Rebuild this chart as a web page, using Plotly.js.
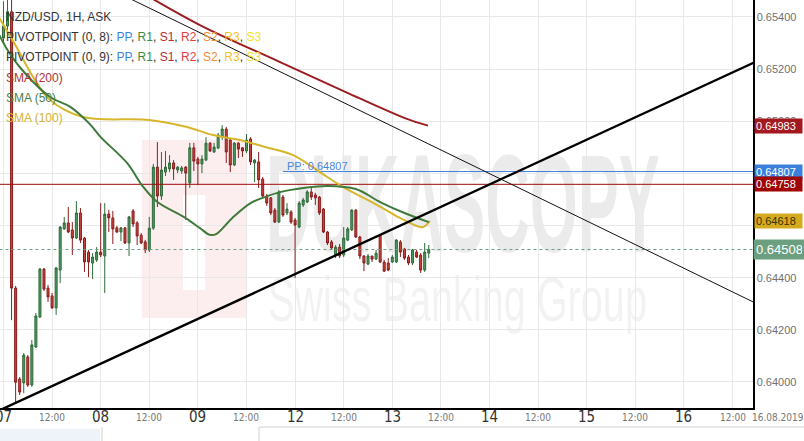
<!DOCTYPE html>
<html><head><meta charset="utf-8">
<script src="https://cdn.plot.ly/plotly-3.0.1.min.js"></script>
<style>html,body{margin:0;padding:0;background:#fff;}#chart{width:804px;height:441px;}</style>
</head><body><div id="chart"></div>
<script>
// ---- candle data (NZD/USD 1H, hour index from 07 00:00) ----
const candleStartHour = 0;
const open = [0.65319,0.65365,0.65420,0.64360,0.64011,0.63996,0.64096,0.63988,0.64134,0.64249,
0.64433,0.64360,0.64330,0.64284,0.64429,0.64587,0.64610,0.64583,0.64552,0.64648,
0.64552,0.64498,0.64456,0.64468,0.64498,0.64483,0.64644,0.64629,0.64591,0.64575,
0.64591,0.64533,0.64656,0.64610,0.64563,0.64537,0.64506,0.64590,0.64824,0.64713,
0.64805,0.64817,0.64840,0.64813,0.64809,0.64824,0.64763,0.64898,0.64855,0.64836,
0.64851,0.64916,0.64882,0.64897,0.64939,0.64970,0.64928,0.64832,0.64916,0.64898,
0.64886,0.64932,0.64840,0.64844,0.64778,0.64713,0.64706,0.64659,0.64613,0.64709,
0.64648,0.64652,0.64621,0.64594,0.64679,0.64690,0.64729,0.64717,0.64709,0.64663,
0.64575,0.64537,0.64487,0.64517,0.64487,0.64544,0.64583,0.64659,0.64556,0.64483,
0.64452,0.64483,0.64471,0.64564,0.64460,0.64456,0.64460,0.64460,0.64537,0.64510,
0.64479,0.64456,0.64498,0.64487,0.64429,0.64494];
const high = [0.65460,0.65480,0.65480,0.64368,0.64019,0.64111,0.64103,0.64161,0.64264,0.64437,
0.64437,0.64372,0.64341,0.64441,0.64598,0.64633,0.64671,0.64613,0.64694,0.64667,
0.64556,0.64506,0.64494,0.64517,0.64686,0.64686,0.64660,0.64656,0.64598,0.64594,
0.64594,0.64636,0.64663,0.64617,0.64571,0.64545,0.64633,0.64836,0.64920,0.64882,
0.64886,0.64870,0.64851,0.64828,0.64828,0.64828,0.64917,0.64917,0.64863,0.64870,
0.64939,0.64920,0.64917,0.64955,0.64985,0.64978,0.64936,0.64920,0.64920,0.64901,
0.64951,0.64939,0.64855,0.64882,0.64786,0.64721,0.64709,0.64667,0.64736,0.64717,
0.64686,0.64659,0.64629,0.64694,0.64706,0.64736,0.64744,0.64725,0.64713,0.64667,
0.64579,0.64544,0.64525,0.64529,0.64594,0.64594,0.64663,0.64663,0.64560,0.64487,
0.64491,0.64483,0.64506,0.64567,0.64468,0.64475,0.64487,0.64548,0.64544,0.64514,
0.64487,0.64510,0.64506,0.64494,0.64533,0.64525];
const low = [0.65300,0.65350,0.64237,0.63919,0.63950,0.63957,0.63981,0.63981,0.64130,0.64245,
0.64349,0.64307,0.64280,0.64257,0.64379,0.64583,0.64571,0.64487,0.64548,0.64533,
0.64422,0.64402,0.64395,0.64460,0.64479,0.64341,0.64575,0.64529,0.64571,0.64540,
0.64529,0.64483,0.64594,0.64525,0.64529,0.64494,0.64498,0.64583,0.64671,0.64698,
0.64790,0.64805,0.64775,0.64801,0.64798,0.64621,0.64744,0.64809,0.64755,0.64801,
0.64847,0.64882,0.64878,0.64893,0.64928,0.64840,0.64805,0.64828,0.64859,0.64863,
0.64878,0.64832,0.64767,0.64744,0.64706,0.64675,0.64640,0.64610,0.64610,0.64633,
0.64640,0.64606,0.64399,0.64590,0.64671,0.64686,0.64698,0.64679,0.64640,0.64571,
0.64525,0.64506,0.64475,0.64475,0.64479,0.64540,0.64579,0.64552,0.64471,0.64425,
0.64448,0.64460,0.64468,0.64456,0.64422,0.64425,0.64456,0.64456,0.64479,0.64468,
0.64448,0.64448,0.64475,0.64418,0.64422,0.64475];
const close = [0.65365,0.65420,0.64360,0.63999,0.63961,0.64103,0.63988,0.64142,0.64253,0.64433,
0.64356,0.64326,0.64284,0.64437,0.64594,0.64610,0.64575,0.64552,0.64648,0.64544,
0.64460,0.64460,0.64479,0.64498,0.64487,0.64644,0.64629,0.64587,0.64575,0.64591,
0.64533,0.64633,0.64606,0.64560,0.64533,0.64506,0.64590,0.64824,0.64713,0.64813,
0.64824,0.64840,0.64817,0.64824,0.64821,0.64801,0.64898,0.64847,0.64836,0.64855,
0.64916,0.64886,0.64901,0.64947,0.64970,0.64882,0.64832,0.64916,0.64893,0.64886,
0.64928,0.64844,0.64851,0.64775,0.64713,0.64686,0.64648,0.64613,0.64729,0.64640,
0.64663,0.64613,0.64602,0.64686,0.64698,0.64729,0.64709,0.64706,0.64648,0.64575,
0.64533,0.64514,0.64517,0.64483,0.64552,0.64587,0.64659,0.64556,0.64483,0.64456,
0.64483,0.64471,0.64494,0.64460,0.64425,0.64429,0.64479,0.64544,0.64498,0.64475,
0.64456,0.64506,0.64479,0.64429,0.64498,0.64508];

// ---- moving averages ----
const sma50Hours = [-1,1,4,11.5,16.5,21.5,24,30.5,34.5,38,44.5,48.5,51,52.5,56.5,61,64.5,68.5,74,80,87,93,99,105];
const sma50 = [0.65330,0.65273,0.65208,0.65093,0.65055,0.64986,0.64939,0.64840,0.64748,0.64690,0.64633,0.64590,0.64564,0.64567,0.64629,0.64686,0.64709,0.64729,0.64744,0.64752,0.64740,0.64690,0.64648,0.64613];
const sma100Hours = [-1,3,7.3,11.5,19.6,36,45.3,51.7,58.4,64.6,71.5,78.1,83.8,92.2,97.9,102.1,103.6,105.3];
const sma100 = [0.65396,0.65290,0.65170,0.65081,0.65016,0.65005,0.64978,0.64947,0.64928,0.64901,0.64870,0.64805,0.64748,0.64679,0.64629,0.64598,0.64594,0.64618];
const sma200Hours = [34,48.5,68.3,85.6,99.1,104.8];
const sma200 = [0.65495,0.65369,0.65227,0.65104,0.65012,0.64983];

// ---- trend lines ----
const supportHours = [-1,186];
const support = [0.63891,0.65230];
const resistHours = [31,186];
const resist = [0.65472,0.64300];

// ---- levels ----
const ppHours = [69,186];
const ppLevel = 0.64807;
const s1Level = 0.64758;
const lastPrice = 0.64508;
const fullHours = [-1,186];

// ---- axis labels ----
const gridHours = [0,12,24,36,48,60,72,84,96,108,120,132,144,156,168,180];
const axisLabels = ['07','12:00','08','12:00','09','12:00','12','12:00','13','12:00','14','12:00','15','12:00','16','12:00'];
const yTickVals = [0.640,0.642,0.644,0.646,0.648,0.650,0.652,0.654];
const yTickText = ['0.64000','0.64200','0.64400','','','0.65000','0.65200','0.65400'];
const tagValues = [0.64983,0.64807,0.64758,0.64618,0.64508];
const tagText = ['0.64983','0.64807','0.64758','0.64618','0.64508'];
const tagColors = ['#a3191f','#3b7fdc','#a00404','#d6aa1f','#6c9f80'];
const tagFontColors = ['#ffffff','#ffffff','#ffffff','#3a3000','#ffffff'];

const hours = open.map((_, i) => candleStartHour + i);

const NARROW = '"Liberation Sans Narrow","DejaVu Sans Condensed","Liberation Sans",Arial,sans-serif';
const SANS = '"Liberation Sans",Arial,sans-serif';

const traces = [
  {type:'scatter', mode:'lines', x:fullHours, y:[s1Level,s1Level], line:{color:'#9e0c0c', width:1}, hoverinfo:'skip'},
  {type:'scatter', mode:'lines', x:ppHours, y:[ppLevel,ppLevel], line:{color:'#3d80dc', width:1}, hoverinfo:'skip'},
  {type:'scatter', mode:'lines', x:fullHours, y:[lastPrice,lastPrice], line:{color:'#6c9f80', width:1, dash:'3px,3px'}, hoverinfo:'skip'},
  {type:'candlestick', x:hours, open:open, high:high, low:low, close:close,
    increasing:{line:{color:'#2d6a3a', width:1}, fillcolor:'#4f9a62'},
    decreasing:{line:{color:'#8a1c1c', width:1}, fillcolor:'#c4463b'},
    whiskerwidth:0, hoverinfo:'skip'},
  {type:'scatter', mode:'lines', x:sma200Hours, y:sma200, line:{color:'#9c1d22', width:2, shape:'spline'}, hoverinfo:'skip', cliponaxis:true},
  {type:'scatter', mode:'lines', x:sma100Hours, y:sma100, line:{color:'#d8b62c', width:2, shape:'spline'}, hoverinfo:'skip'},
  {type:'scatter', mode:'lines', x:sma50Hours, y:sma50, line:{color:'#3e7a3c', width:2, shape:'spline'}, hoverinfo:'skip'},
  {type:'scatter', mode:'lines', x:resistHours, y:resist, line:{color:'#111', width:1}, hoverinfo:'skip'},
  {type:'scatter', mode:'lines', x:supportHours, y:support, line:{color:'#000', width:2.4}, hoverinfo:'skip'}
];

const PH = 408, PW = 753;
const py = v => 1 - v / PH;
const px = v => v / PW;

const annotations = [];
const sp = (c, t) => '<span style="color:' + c + '">' + t + '</span>';
const pivotParts = sp('#3b84e2','PP') + ', ' + sp('#3d8a46','R1') + ', ' + sp('#b42e2e','S1') + ', ' +
  sp('#e23e3e','R2') + ', ' + sp('#ef8f38','S2') + ', ' + sp('#f3c41a','R3') + ', ' + sp('#efe228','S3');
const legendLines = [
  ['NZD/USD, 1H, ASK', '#333333', 17],
  ['PIVOTPOINT (0, 8): ' + pivotParts, '#333333', 37],
  ['PIVOTPOINT (0, 9): ' + pivotParts, '#333333', 57],
  ['SMA (200)', '#b23232', 78],
  ['SMA (50)', '#4a7f4a', 98],
  ['SMA (100)', '#d6b12e', 118]
];
legendLines.forEach(l => annotations.push({xref:'paper', yref:'paper', x:px(4), y:py(l[2]), xanchor:'left', yanchor:'middle',
  text:l[0], showarrow:false, font:{family:SANS, size:12, color:l[1]}}));

axisLabels.forEach((t, i) => {
  const small = t === '12:00';
  annotations.push({xref:'x', yref:'paper', x:gridHours[i], y:0, yshift:-9, xanchor:'center', yanchor:'middle',
    text:t, showarrow:false, font: small ? {family:NARROW, size:10, color:'#777'} : {family:NARROW, size:15, color:'#333'}});
});
annotations.push({xref:'paper', yref:'paper', x:px(778), y:0, yshift:-9, xanchor:'center', yanchor:'middle',
  text:'16.08.2019', showarrow:false, font:{family:NARROW, size:10, color:'#777'}});

annotations.push({xref:'x', yref:'y', x:69.5, y:ppLevel, yshift:6, xanchor:'left', yanchor:'middle',
  text:'PP: 0.64807', showarrow:false, font:{family:SANS, size:11, color:'#4a86d8'}});

tagValues.forEach((v, i) => {
  const big = i === tagValues.length - 1;
  annotations.push({xref:'paper', yref:'y', x:1, y:v, xanchor:'left', yanchor:'middle', xshift: big ? 0 : 1,
    text:tagText[i], showarrow:false, bgcolor:tagColors[i], borderpad: big ? 2 : 1, width: big ? 46 : 45, align:'left',
    font:{family:SANS, size: big ? 13 : 11, color:tagFontColors[i]}});
});

const shapes = [
  {type:'rect', xref:'paper', yref:'paper', x0:px(142), x1:px(247), y0:py(318), y1:py(140), layer:'below',
    fillcolor:'rgba(228,90,90,0.10)', line:{width:0}},
  {type:'rect', xref:'paper', yref:'paper', x0:px(183), x1:px(205), y0:py(290), y1:py(195), layer:'below',
    fillcolor:'#ffffff', line:{width:0}},
  {type:'rect', xref:'paper', yref:'paper', x0:px(266), x1:px(660), y0:py(248), y1:py(140), layer:'below',
    fillcolor:'rgba(0,0,0,0)', line:{width:0},
    label:{text:'DUKASCOPY', textposition:'middle center', font:{family:SANS, size:100, weight:'bold', color:'rgba(0,0,0,0.08)'}}},
  {type:'rect', xref:'paper', yref:'paper', x0:px(268), x1:px(647), y0:py(322), y1:py(265), layer:'below',
    fillcolor:'rgba(0,0,0,0)', line:{width:0},
    label:{text:'Swiss Banking Group', textposition:'middle center', font:{family:SANS, size:60, color:'rgba(0,0,0,0.05)'}}},
  {type:'rect', xref:'paper', yref:'paper', x0:0, x1:px(100), y0:py(441), y1:py(429), fillcolor:'#eef3fa', line:{width:0}},
  {type:'line', xref:'paper', yref:'paper', x0:px(102), x1:px(102), y0:py(441), y1:py(427), line:{color:'#d0d0d0', width:1}},
  {type:'line', xref:'paper', yref:'paper', x0:px(259), x1:px(806), y0:py(427), y1:py(427), line:{color:'#d0d0d0', width:1}},
  {type:'line', xref:'paper', yref:'paper', x0:px(259), x1:px(259), y0:py(441), y1:py(427), line:{color:'#d0d0d0', width:1}}
];

const layout = {
  width:804, height:441,
  margin:{l:0, r:51, t:0, b:33, pad:0},
  paper_bgcolor:'#ffffff', plot_bgcolor:'#ffffff',
  showlegend:false,
  xaxis:{range:[-0.86,185.06], tickvals:gridHours, showticklabels:false, ticks:'', showgrid:true, gridcolor:'#e8e8e8',
    zeroline:false, showline:true, linecolor:'#000', linewidth:1.5, mirror:true, rangeslider:{visible:false}, fixedrange:true},
  yaxis:{side:'right', range:[0.63900,0.65465], tickvals:yTickVals, ticktext:yTickText, ticks:'', showgrid:true,
    gridcolor:'#e8e8e8', zeroline:false, showline:true, linecolor:'#000', linewidth:1.5, mirror:false,
    tickfont:{family:SANS, size:11, color:'#707070'}, fixedrange:true},
  annotations:annotations,
  shapes:shapes
};

function fitText(txt, targetW, scaleY) {
  try {
    const els = Array.from(document.querySelectorAll('#chart text')).filter(e => e.textContent === txt);
    els.forEach(el => {
      const bb = el.getBBox();
      if (!bb.width) return;
      const sx = targetW / bb.width;
      el.style.transformBox = 'fill-box';
      el.style.transformOrigin = 'center';
      el.style.transform = 'scale(' + sx + ',' + scaleY + ')';
    });
  } catch (e) {}
}

Plotly.newPlot('chart', traces, layout, {staticPlot:true, displayModeBar:false}).then(() => {
  fitText('DUKASCOPY', 394, 1.4);
  fitText('Swiss Banking Group', 379, 1.05);
});
</script></body></html>
